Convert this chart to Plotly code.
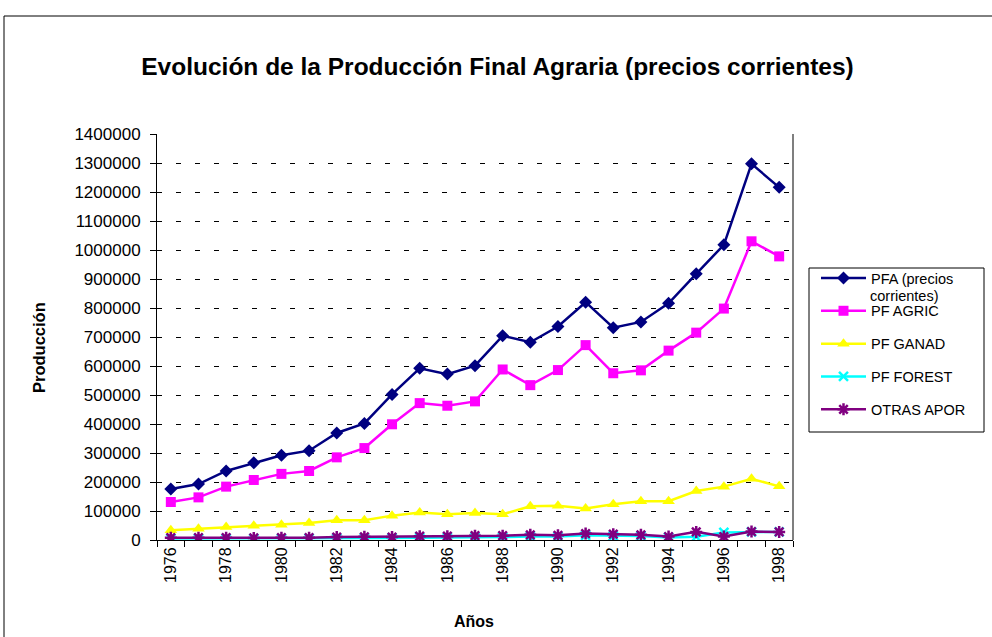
import plotly.graph_objects as go

years = list(range(1976, 1999))
pfa = [176000, 193000, 238000, 266000, 292000, 308000, 369000, 402000, 502000, 592000, 572000, 601000,
       704000, 682000, 736000, 820000, 732000, 752000, 816000, 918000, 1018000, 1297000, 1216000]
pf_agric = [131000, 147000, 184000, 207000, 228000, 238000, 285000, 317000, 399000, 472000, 463000, 478000,
            588000, 534000, 586000, 672000, 575000, 585000, 653000, 715000, 798000, 1030000, 978000]
pf_ganad = [34000, 39000, 45000, 49000, 53000, 59000, 68000, 68000, 84000, 95000, 89000, 93000,
            89000, 116000, 118000, 109000, 123000, 134000, 134000, 169000, 184000, 211000, 185000]
pf_forest = [5000, 5000, 5000, 5000, 5000, 6000, 6000, 7000, 7000, 8000, 8000, 9000,
             10000, 12000, 12000, 16000, 14000, 14000, 9000, 11000, 26000, 28000, 28000]
otras_apor = [8000, 8000, 8000, 7000, 8000, 8000, 10000, 11000, 10000, 13000, 13000, 15000,
              15000, 18000, 16000, 22000, 20000, 18000, 12000, 28000, 12000, 29000, 28000]
# first legend label wraps onto a second line ("corrientes)"), drawn as a note below it
series_names = ["PFA (precios", "PF AGRIC", "PF GANAD", "PF FOREST", "OTRAS APOR"]
name_wrap = "corrientes)"
xtick_years = list(range(1976, 1999, 2))
ytick_vals = list(range(0, 1400001, 100000))

FONT = "Liberation Sans, Arial, sans-serif"
W, H = 992, 637
L, R, T, B = 157, 199, 134, 97
pw, ph = W - L - R, H - T - B

def px_x(x):
    return (x - L) / pw

def px_y(y):
    return (H - B - y) / ph

fig = go.Figure()
styles = [
    dict(color="#000080", symbol="diamond", size=10, lw=2.5),
    dict(color="#FF00FF", symbol="square", size=10, lw=2.5),
    dict(color="#FFFF00", symbol="triangle-up", size=11, lw=2.5),
    dict(color="#00FFFF", symbol="x-thin-open", size=9, lw=2.5),
    dict(color="#800080", symbol="asterisk-open", size=10, lw=2.5),
]
for name, vals, st in zip(series_names, [pfa, pf_agric, pf_ganad, pf_forest, otras_apor], styles):
    marker = dict(symbol=st["symbol"], size=st["size"], color=st["color"])
    if "open" in st["symbol"]:
        marker["line"] = dict(color=st["color"], width=2.5)
    fig.add_trace(go.Scatter(
        x=years, y=vals, name=name, mode="lines+markers",
        line=dict(color=st["color"], width=st["lw"]),
        marker=marker, legendgroup=name,
    ))

fig.update_layout(
    width=W, height=H,
    margin=dict(l=L, r=R, t=T, b=B, autoexpand=False),
    paper_bgcolor="white", plot_bgcolor="white",
    font=dict(family=FONT, color="black", size=16),
    title=dict(text="<b>Evolución de la Producción Final Agraria (precios corrientes)</b>",
               x=497.5 / W, xref="container", xanchor="center",
               y=1 - 66 / H, yref="container", yanchor="middle",
               font=dict(size=24.5, family=FONT, color="black")),
    showlegend=True,
    legend=dict(x=px_x(816), y=px_y(262), xanchor="left", yanchor="top",
                borderwidth=0, bgcolor="rgba(0,0,0,0)",
                font=dict(size=14.5, family=FONT), tracegroupgap=11,
                itemwidth=45, valign="middle"),
    xaxis=dict(range=[1975.5, 1998.5], tickvals=xtick_years, ticktext=[str(y) for y in xtick_years],
               tickangle=-90, ticks="", showgrid=False, showline=True, linecolor="black", linewidth=1,
               zeroline=False, tickfont=dict(size=16),
               minor=dict(tickvals=[1975.5 + i for i in range(24)], ticks="outside", ticklen=6,
                          tickcolor="black", showgrid=False)),
    yaxis=dict(range=[0, 1400000], tickvals=ytick_vals, tickformat="d", ticks="outside", ticklen=6,
               tickcolor="black", showline=True, linecolor="black", linewidth=1, zeroline=False,
               showgrid=True, gridcolor="black", gridwidth=1, griddash="5px,14px",
               tickfont=dict(size=17), ticklabelstandoff=6),
    shapes=[
        dict(type="rect", xref="paper", yref="paper", x0=px_x(4), x1=px_x(1010), y0=px_y(660), y1=px_y(16),
             line=dict(color="black", width=1), fillcolor="rgba(0,0,0,0)", layer="below"),
        dict(type="line", xref="paper", yref="paper", x0=1, x1=1, y0=0, y1=1,
             line=dict(color="#555555", width=1.5)),
        dict(type="rect", xref="paper", yref="paper", x0=px_x(809), x1=px_x(984), y0=px_y(432), y1=px_y(268),
             line=dict(color="black", width=1), fillcolor="white", layer="above"),
    ],
    annotations=[
        dict(text="<b>Producción</b>", xref="paper", yref="paper", x=px_x(39), y=px_y(348),
             textangle=-90, showarrow=False, font=dict(size=16.5, family=FONT), xanchor="center", yanchor="middle"),
        dict(text="<b>Años</b>", xref="paper", yref="paper", x=px_x(474), y=px_y(621),
             showarrow=False, font=dict(size=16, family=FONT), xanchor="center", yanchor="middle"),
        dict(text=name_wrap, xref="paper", yref="paper", x=px_x(868), y=px_y(296),
             showarrow=False, font=dict(size=14.5, family=FONT), xanchor="left", yanchor="middle"),
    ],
)

fig.write_html("out.html", config={"displayModeBar": False},
               post_script="document.body.style.margin='0';document.body.style.overflow='hidden';")
